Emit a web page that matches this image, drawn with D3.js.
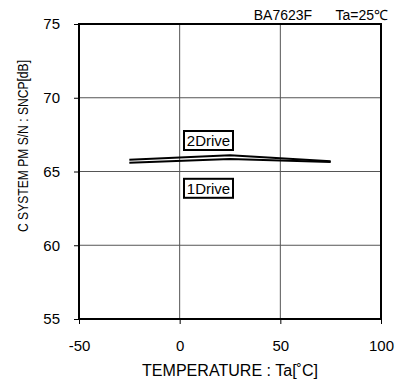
<!DOCTYPE html>
<html>
<head>
<meta charset="utf-8">
<script src="https://cdn.jsdelivr.net/npm/d3@7"></script>
<style>
  body { margin: 0; background: #fff; }
  text { font-family: "Liberation Sans", Arial, sans-serif; fill: #000; }
</style>
</head>
<body>
<svg id="chart" width="404" height="385"></svg>
<script>
// data
const temps = [-25, 25, 75];
const drive2 = [65.8, 66.1, 65.7];
const drive1 = [65.6, 65.85, 65.65];
const xTicks = [-50, 0, 50, 100];
const yTicks = [55, 60, 65, 70, 75];

const svg = d3.select("#chart");
const m = { left: 79, right: 381, top: 24, bottom: 319 };

const x = d3.scaleLinear().domain([-50, 100]).range([m.left, m.right]);
const y = d3.scaleLinear().domain([55, 75]).range([m.bottom, m.top]);

// grid
svg.append("g")
  .selectAll("line")
  .data(xTicks.slice(1, -1))
  .enter()
  .append("line")
  .attr("x1", d => x(d)).attr("x2", d => x(d))
  .attr("y1", m.top).attr("y2", m.bottom)
  .attr("stroke", "#555").attr("stroke-width", 1);

svg.append("g")
  .selectAll("line")
  .data(yTicks.slice(1, -1))
  .enter()
  .append("line")
  .attr("x1", m.left).attr("x2", m.right)
  .attr("y1", d => y(d)).attr("y2", d => y(d))
  .attr("stroke", "#555").attr("stroke-width", 1);

// axes
const xAxis = svg.append("g")
  .attr("transform", `translate(0,${m.bottom})`)
  .call(d3.axisBottom(x).tickValues(xTicks).tickSize(5).tickPadding(16).tickFormat(d => String(d)));
const yAxis = svg.append("g")
  .attr("transform", `translate(${m.left},0)`)
  .call(d3.axisLeft(y).tickValues(yTicks).tickSize(5).tickPadding(14).tickFormat(d => String(d)));

[xAxis, yAxis].forEach(g => {
  g.select(".domain").remove();
  g.selectAll("text").style("font-size", "15px").style("font-family", "Liberation Sans, Arial, sans-serif");
  g.selectAll("line").attr("stroke", "#000");
});

// frame
svg.append("rect")
  .attr("x", m.left).attr("y", m.top)
  .attr("width", m.right - m.left).attr("height", m.bottom - m.top)
  .attr("fill", "none").attr("stroke", "#000").attr("stroke-width", 2);

// curves
const line = d3.line().x((d, i) => x(temps[i])).y(d => y(d));
[drive2, drive1].forEach(s => {
  svg.append("path")
    .attr("d", line(s))
    .attr("fill", "none")
    .attr("stroke", "#000")
    .attr("stroke-width", 2);
});

// labels with boxes
function boxLabel(txt, cx, cy) {
  svg.append("rect")
    .attr("x", cx - 24.5).attr("y", cy - 9.5)
    .attr("width", 49).attr("height", 19)
    .attr("fill", "#fff").attr("stroke", "#000").attr("stroke-width", 2);
  svg.append("text")
    .attr("x", cx).attr("y", cy + 5.5)
    .attr("text-anchor", "middle")
    .style("font-size", "15px")
    .text(txt);
}
boxLabel("2Drive", 208.5, 140.5);
boxLabel("1Drive", 208.5, 188.3);

// title
svg.append("text")
  .attr("x", 388).attr("y", 19.5)
  .attr("text-anchor", "end")
  .style("font-size", "14px")
  .text("BA7623F\u00a0\u00a0\u00a0\u00a0\u00a0\u00a0Ta=25\u2103");

// axis titles
svg.append("text")
  .attr("x", 142).attr("y", 376)
  .attr("textLength", 176)
  .attr("lengthAdjust", "spacingAndGlyphs")
  .style("font-size", "16px")
  .text("TEMPERATURE : Ta[\u02daC]");

svg.append("text")
  .attr("transform", "translate(27.5,146) rotate(-90)")
  .attr("text-anchor", "middle")
  .attr("textLength", 172)
  .attr("lengthAdjust", "spacingAndGlyphs")
  .style("font-size", "14px")
  .text("C SYSTEM PM S/N : SNCP[dB]");
</script>
</body>
</html>
